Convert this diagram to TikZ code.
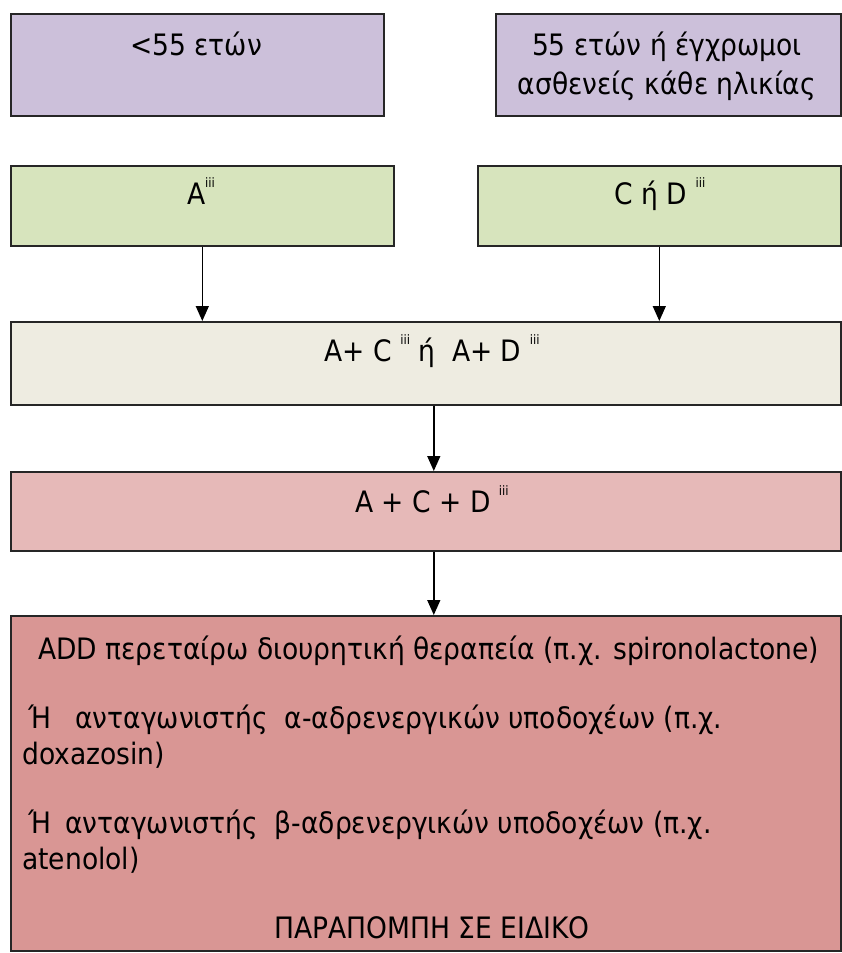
\documentclass[tikz,border=0pt]{standalone}
\usepackage{fontspec}
\setmainfont{DejaVu Sans Condensed}
\usetikzlibrary{arrows.meta}
\definecolor{lavender}{HTML}{CCC0DA}
\definecolor{olivepale}{HTML}{D7E4BD}
\definecolor{beigepale}{HTML}{EEECE1}
\definecolor{rosepale}{HTML}{E6B9B8}
\definecolor{rosedark}{HTML}{D99694}
\newcommand{\supiii}{\raisebox{0.55em}{\fontsize{13}{13}\selectfont iii}}
\begin{document}
\begin{tikzpicture}[x=1pt,y=-1pt,
  box/.style={draw=black!85, line width=1.6pt, rectangle, inner sep=0pt, anchor=north west},
  txt/.style={inner sep=0pt, font=\fontsize{29.5}{29.5}\selectfont},
  arr/.style={draw=black, line width=1.4pt, -{Triangle[width=13pt,length=15pt]}}]
\useasboundingbox (0,0) rectangle (842,953);

% boxes
\node[box, fill=lavender,   minimum width=373pt, minimum height=102pt] (young) at (10,13) {};
\node[box, fill=lavender,   minimum width=345pt, minimum height=102pt] (old)   at (495,13) {};
\node[box, fill=olivepale,  minimum width=383pt, minimum height=80pt]  (drugA) at (10,165) {};
\node[box, fill=olivepale,  minimum width=363pt, minimum height=80pt]  (drugCD) at (477,165) {};
\node[box, fill=beigepale,  minimum width=830pt, minimum height=83pt]  (dual) at (10,321) {};
\node[box, fill=rosepale,   minimum width=830pt, minimum height=79pt]  (triple) at (10,471) {};
\node[box, fill=rosedark,   minimum width=830pt, minimum height=335pt] (resist) at (10,615) {};

% texts
\node[txt, anchor=base] (t1) at (196,55) {<55 ετών};
\node[txt, anchor=base] (t2) at (667,55) {55 ετών ή έγχρωμοι};
\node[txt, anchor=base] (t3) at (667,94) {ασθενείς κάθε ηλικίας};
\node[txt, anchor=base] (t4) at (201,204) {A\supiii};
\node[txt, anchor=base] (t5) at (660,204) {C ή D \supiii};
\node[txt, anchor=base] (t6) at (432,361) {A+ C \supiii\ ή\ \ A+ D \supiii};
\node[txt, anchor=base] (t7) at (432,512) {A + C + D \supiii};
\node[txt, anchor=base west] (t8) at (38,659) {ADD περεταίρω διουρητική θεραπεία (π.χ. spironolactone)};
\node[txt, anchor=base west] (t9) at (28,728) {Ή\hspace{24pt}ανταγωνιστής\ \ α-αδρενεργικών υποδοχέων (π.χ.};
\node[txt, anchor=base west] (t10) at (22,764) {doxazosin)};
\node[txt, anchor=base west] (t11) at (28,833) {Ή\hspace{14pt}ανταγωνιστής\ \ β-αδρενεργικών υποδοχέων (π.χ.};
\node[txt, anchor=base west] (t12) at (22,869) {atenolol)};
\node[txt, anchor=base] (t13) at (432,938) {ΠΑΡΑΠΟΜΠΗ ΣΕ ΕΙΔΙΚΟ};

% connectors
\draw[arr] (drugA.south) -- (drugA.south |- dual.north);
\draw[arr] (drugCD.south) -- (drugCD.south |- dual.north);
\draw[arr] ([xshift=8pt]dual.south) -- ([xshift=8pt]triple.north);
\draw[arr] ([xshift=8pt]triple.south) -- ([xshift=8pt]resist.north);
\end{tikzpicture}
\end{document}
